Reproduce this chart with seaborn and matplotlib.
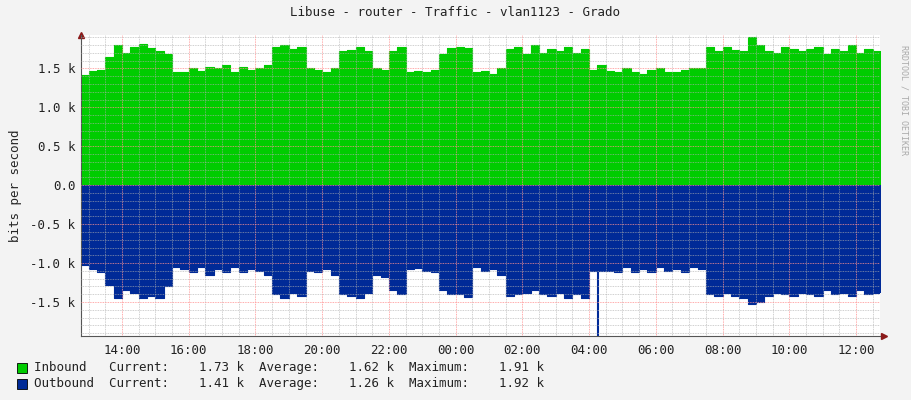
import numpy as np
import pandas as pd
import matplotlib
matplotlib.use("Agg")
import matplotlib.pyplot as plt
import seaborn as sns
from matplotlib.ticker import MultipleLocator, FixedLocator

# 15-minute samples, starting 12:45, values in k bits/s
start_hour = 12.75
step_hours = 0.25
inbound = [1.42, 1.47, 1.48, 1.65, 1.80, 1.70, 1.78, 1.82, 1.76, 1.72,
           1.68, 1.45, 1.45, 1.50, 1.47, 1.52, 1.50, 1.55, 1.45, 1.52,
           1.48, 1.50, 1.55, 1.78, 1.80, 1.75, 1.77, 1.50, 1.48, 1.45,
           1.50, 1.72, 1.74, 1.78, 1.72, 1.50, 1.48, 1.72, 1.78, 1.45,
           1.47, 1.45, 1.48, 1.68, 1.76, 1.78, 1.76, 1.45, 1.47, 1.43,
           1.50, 1.75, 1.78, 1.68, 1.80, 1.70, 1.75, 1.72, 1.78, 1.70,
           1.75, 1.48, 1.55, 1.47, 1.45, 1.50, 1.45, 1.43, 1.48, 1.50,
           1.45, 1.45, 1.48, 1.50, 1.50, 1.77, 1.72, 1.77, 1.74, 1.72,
           1.90, 1.80, 1.72, 1.70, 1.78, 1.75, 1.72, 1.75, 1.78, 1.68,
           1.75, 1.72, 1.80, 1.70, 1.75, 1.72, 1.73]
outbound = [-1.03, -1.08, -1.12, -1.28, -1.45, -1.35, -1.38, -1.45, -1.42, -1.45,
            -1.30, -1.05, -1.08, -1.12, -1.05, -1.15, -1.08, -1.12, -1.05, -1.12,
            -1.08, -1.10, -1.15, -1.40, -1.45, -1.38, -1.42, -1.10, -1.12, -1.08,
            -1.15, -1.40, -1.42, -1.45, -1.38, -1.15, -1.18, -1.35, -1.40, -1.08,
            -1.06, -1.10, -1.12, -1.35, -1.40, -1.40, -1.44, -1.05, -1.10, -1.08,
            -1.15, -1.42, -1.40, -1.38, -1.35, -1.40, -1.42, -1.38, -1.45, -1.40,
            -1.45, -1.10, -1.10, -1.10, -1.12, -1.05, -1.12, -1.08, -1.12, -1.05,
            -1.10, -1.08, -1.12, -1.05, -1.08, -1.40, -1.42, -1.38, -1.42, -1.45,
            -1.52, -1.50, -1.42, -1.38, -1.40, -1.42, -1.38, -1.40, -1.42, -1.35,
            -1.40, -1.38, -1.42, -1.35, -1.40, -1.38, -1.41]
# short outbound spike around 04:15
spike_hour = 28.27
spike_value = -1.93

tick_hours = [14, 16, 18, 20, 22, 24, 26, 28, 30, 32, 34, 36]
legend_rows = [("Inbound", "1.73 k", "1.62 k", "1.91 k"),
               ("Outbound", "1.41 k", "1.26 k", "1.92 k")]

green = "#00cc00"
blue = "#002a97"
mono = "DejaVu Sans Mono"

sns.set_theme(style="white")
plt.rcParams["font.family"] = [mono]

hours = start_hour + step_hours * np.arange(len(inbound))
df = pd.DataFrame({"hour": hours, "inbound": inbound, "outbound": outbound})

fig = plt.figure(figsize=(9.11, 4.0), dpi=100, facecolor="#f3f3f3")
ax = fig.add_axes([81 / 911, 1 - 335.5 / 400, 799 / 911, 300.5 / 400])
ax.set_facecolor("white")

ax.fill_between(df["hour"], 0, df["inbound"], step="post", color=green, lw=0, zorder=1)
ax.fill_between(df["hour"], 0, df["outbound"], step="post", color=blue, lw=0, zorder=1)
sns.lineplot(data=df, x="hour", y="inbound", drawstyle="steps-post", color=green, lw=0.8, ax=ax, zorder=1)
sns.lineplot(data=df, x="hour", y="outbound", drawstyle="steps-post", color=blue, lw=0.8, ax=ax, zorder=1)
ax.vlines(spike_hour, -1.1, spike_value, color=blue, lw=1.5, zorder=1)

ax.set_xlim(12.77, 36.72)
ax.set_ylim(-1.93, 1.93)

ax.xaxis.set_major_locator(FixedLocator(tick_hours))
ax.xaxis.set_minor_locator(MultipleLocator(0.5))
ax.set_xticklabels([f"{h % 24:02d}:00" for h in tick_hours])
yt = [-1.5, -1.0, -0.5, 0.0, 0.5, 1.0, 1.5]
ax.yaxis.set_major_locator(FixedLocator(yt))
ax.yaxis.set_minor_locator(MultipleLocator(0.1))
ax.set_yticklabels([("0.0" if v == 0 else f"{v:.1f} k") for v in yt])

ax.grid(which="minor", color="#b0b0b0", ls=(0, (1, 1)), lw=0.6, alpha=0.8, zorder=3)
ax.grid(which="major", color="#ff9090", ls=(0, (1, 1)), lw=0.6, zorder=3)
ax.set_axisbelow(False)
ax.tick_params(which="both", labelsize=9, colors="#222222", length=0, pad=4)
ax.tick_params(axis="x", pad=6)
for lab in ax.get_xticklabels() + ax.get_yticklabels():
    lab.set_family(mono)
ax.set_xlabel("")
ax.set_ylabel("bits per second", fontsize=9, family=mono, labelpad=6)

for side in ["top", "right"]:
    ax.spines[side].set_visible(False)
for side in ["left", "bottom"]:
    ax.spines[side].set_color("#555555")
    ax.spines[side].set_linewidth(0.8)
ax.plot([0], [1.0], marker="^", color="#8b1a1a", ms=4, transform=ax.transAxes, clip_on=False)
ax.plot([1.005], [0], marker=">", color="#8b1a1a", ms=4, transform=ax.transAxes, clip_on=False)

fig.text(455 / 911, 1 - 13 / 400, "Libuse - router - Traffic - vlan1123 - Grado",
         ha="center", va="center", fontsize=9, family=mono, color="#222222")
fig.text(904 / 911, 1 - 100 / 400, "RRDTOOL / TOBI OETIKER", rotation=270,
         ha="center", va="center", fontsize=6, family=mono, color="#aaaaaa")

for i, (name, cur, avg, mx) in enumerate(legend_rows):
    y = 1 - (368 + 16 * i) / 400
    fig.patches.append(plt.Rectangle((17 / 911, y - 5 / 400), 10 / 911, 10 / 400,
                                     transform=fig.transFigure, facecolor=[green, blue][i],
                                     edgecolor="black", lw=0.6))
    fig.text(34 / 911, y, f"{name:<10}Current:{cur:>10}  Average:{avg:>10}  Maximum:{mx:>10}",
             ha="left", va="center", fontsize=9, family=mono, color="#222222")

fig.savefig("out.png", dpi=100, facecolor=fig.get_facecolor())
